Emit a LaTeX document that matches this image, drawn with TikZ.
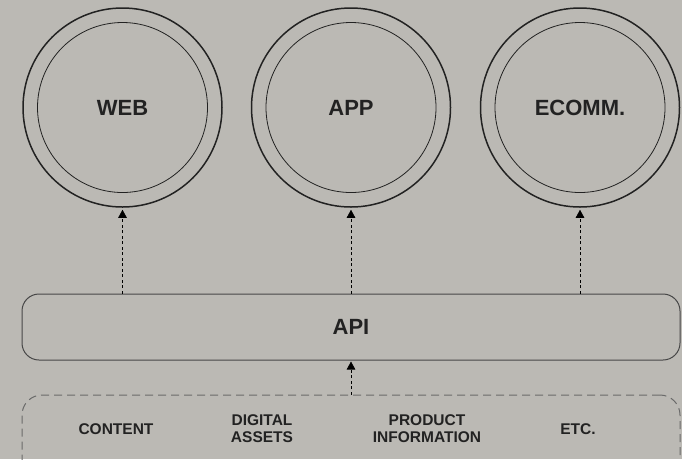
\documentclass[tikz,border=0pt]{standalone}
\usepackage{fontspec}
\setmainfont{Liberation Sans}
\usetikzlibrary{arrows.meta}
\definecolor{paper}{HTML}{BBB9B4}
\definecolor{ink}{HTML}{222222}
\definecolor{rim}{HTML}{222222}
\definecolor{boxline}{HTML}{474747}
\definecolor{dashline}{HTML}{6A6A6A}
\tikzset{
  ring/.style={circle, draw=rim, line width=1.5pt, minimum size=199pt, inner sep=0pt},
  core/.style={circle, draw=rim, line width=0.8pt, minimum size=170pt, inner sep=0pt,
    text=ink, font=\bfseries\fontsize{22}{24}\selectfont},
  apibox/.style={rectangle, rounded corners=17pt, draw=boxline, line width=1pt,
    minimum width=658pt, minimum height=66pt, inner sep=0pt,
    text=ink, font=\bfseries\fontsize{22}{24}\selectfont},
  srcbox/.style={rectangle, rounded corners=20pt, draw=dashline, line width=1pt,
    dash pattern=on 8pt off 5pt, minimum width=658pt, minimum height=84pt, inner sep=0pt},
  srclabel/.style={text=ink, align=center, font=\bfseries\fontsize{15.5}{17}\selectfont},
  conn/.style={draw=black, line width=0.7pt, dash pattern=on 3pt off 2.5pt,
    -{Triangle[length=8pt,width=8.5pt]}}
}
\begin{document}
\begin{tikzpicture}[x=1pt,y=-1pt]
  \fill[paper] (0,0) rectangle (682,459);
  \useasboundingbox (0,0) rectangle (682,459);

  % channel rings
  \node[ring] (web) at (122.5,107.5) {};
  \node[core] (webin) at (122.5,107.5) {WEB};
  \node[ring] (app) at (351,107.5) {};
  \node[core] (appin) at (351,107.5) {APP};
  \node[ring] (ecomm) at (580,107.5) {};
  \node[core] (ecommin) at (580,107.5) {ECOMM.};

  % API bar
  \node[apibox] (api) at (351,327) {API};

  % sources container (runs past the lower edge)
  \begin{scope}
    \clip (0,0) rectangle (682,459);
    \node[srcbox] (src) at (351,437) {};
  \end{scope}
  \node[srclabel] (content) at (116,429) {CONTENT};
  \node[srclabel] (assets) at (262,429) {DIGITAL\\ASSETS};
  \node[srclabel] (product) at (427,429) {PRODUCT\\INFORMATION};
  \node[srclabel] (etc) at (578,429) {ETC.};

  % connectors
  \draw[conn] (api.north -| web) -- ([yshift=-2pt]web.south);
  \draw[conn] (api.north -| app) -- ([yshift=-2pt]app.south);
  \draw[conn] (api.north -| ecomm) -- ([yshift=-2pt]ecomm.south);
  \draw[conn] (src.north -| api) -- ([yshift=-1pt]api.south);
\end{tikzpicture}
\end{document}
